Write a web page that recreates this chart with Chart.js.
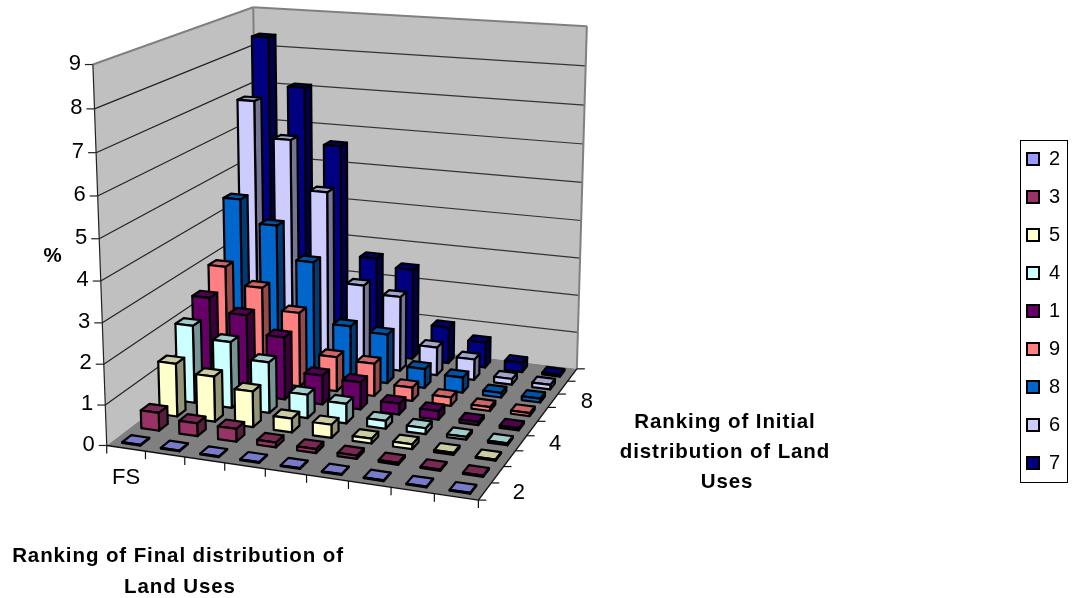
<!DOCTYPE html>
<html>
<head>
<meta charset="utf-8">
<title>Ranking of land uses</title>
<script src="https://cdn.jsdelivr.net/npm/chart.js@4/dist/chart.umd.min.js"></script>
<style>
    html, body { margin: 0; padding: 0; background: #fff; }
    canvas { display: block; }
</style>
</head>
<body>
<canvas id="chart" width="1076" height="598"></canvas>
<script>
// Ranking of final distribution (front axis), only the first one is labelled
const categories = ['FS', '', '', '', '', '', '', '', ''];
const seriesNames = ['2', '3', '5', '4', '1', '9', '8', '6', '7'];

// % per series, front row to back row
const rank2 = [0.02, 0.02, 0.02, 0.02, 0.02, 0.02, 0.02, 0.02, 0.02];
const rank3 = [0.45, 0.32, 0.32, 0.12, 0.1, 0.08, 0.05, 0.03, 0.03];
const rank5 = [1.35, 1.15, 0.9, 0.35, 0.33, 0.12, 0.12, 0.05, 0.03];
const rank4 = [2.0, 1.7, 1.3, 0.6, 0.5, 0.2, 0.15, 0.07, 0.05];
const rank1 = [2.42, 2.08, 1.62, 0.75, 0.7, 0.28, 0.22, 0.08, 0.06];
const rank9 = [2.95, 2.5, 1.95, 0.9, 0.85, 0.35, 0.22, 0.1, 0.08];
const rank8 = [4.47, 3.87, 3.0, 1.4, 1.3, 0.5, 0.4, 0.12, 0.1];
const rank6 = [6.85, 5.9, 4.6, 2.2, 2.0, 0.75, 0.55, 0.15, 0.12];
const rank7 = [8.35, 7.08, 5.6, 2.65, 2.45, 0.98, 0.68, 0.25, 0.05];
const seriesValues = [rank2, rank3, rank5, rank4, rank1, rank9, rank8, rank6, rank7];

const seriesColors = ['#9999FF', '#993366', '#FFFFCC', '#CCFFFF', '#660066', '#FF8080', '#0066CC', '#CCCCFF', '#000080'];

const FONT = '"Liberation Sans", Arial, sans-serif';
const BAR_SIZE = 0.47; // share of a cell the bar takes, both ways

// cube corners [x, height, depth] and where they land on the page,
// the camera matrix is fitted from these
const cameraFit = [
    [0, 0, 0, 107, 447], [1, 0, 0, 478, 499], [0, 0, 1, 258, 329], [1, 0, 1, 577, 370],
    [0, 1, 0, 93, 64], [0, 1, 1, 253, 8], [1, 1, 1, 587, 26]
];

function fitCamera(pts) {
    const rows = [];
    pts.forEach(([x, y, z, sx, sy]) => {
        const a = sx / 1000, b = sy / 1000;
        rows.push([x, y, z, 1, 0, 0, 0, 0, -a * x, -a * y, -a * z, a]);
        rows.push([0, 0, 0, 0, x, y, z, 1, -b * x, -b * y, -b * z, b]);
    });
    // normal equations
    const n = 11;
    const m = [];
    for (let i = 0; i < n; i++) {
        m.push([]);
        for (let j = 0; j <= n; j++) {
            m[i].push(rows.reduce((s, r) => s + r[i] * r[j], 0));
        }
    }
    for (let i = 0; i < n; i++) {
        let p = i;
        for (let k = i + 1; k < n; k++) if (Math.abs(m[k][i]) > Math.abs(m[p][i])) p = k;
        [m[i], m[p]] = [m[p], m[i]];
        for (let k = 0; k < n; k++) {
            if (k === i) continue;
            const f = m[k][i] / m[i][i];
            for (let j = i; j <= n; j++) m[k][j] -= f * m[i][j];
        }
    }
    return m.map((r, i) => r[n] / r[i]);
}

const cam = fitCamera(cameraFit);

function project(x, y, z) {
    const w = cam[8] * x + cam[9] * y + cam[10] * z + 1;
    return [
        1000 * (cam[0] * x + cam[1] * y + cam[2] * z + cam[3]) / w,
        1000 * (cam[4] * x + cam[5] * y + cam[6] * z + cam[7]) / w
    ];
}

function shade(hex, f) {
    const v = parseInt(hex.slice(1), 16);
    const c = [v >> 16, (v >> 8) & 255, v & 255].map(n => Math.round(n * f));
    return `rgb(${c[0]},${c[1]},${c[2]})`;
}

function poly(ctx, pts, fill, stroke, width) {
    ctx.beginPath();
    pts.forEach((p, i) => i ? ctx.lineTo(p[0], p[1]) : ctx.moveTo(p[0], p[1]));
    ctx.closePath();
    if (fill) { ctx.fillStyle = fill; ctx.fill(); }
    if (stroke) { ctx.strokeStyle = stroke; ctx.lineWidth = width; ctx.stroke(); }
}

function line(ctx, a, b, color, width) {
    ctx.beginPath();
    ctx.moveTo(a[0], a[1]);
    ctx.lineTo(b[0], b[1]);
    ctx.strokeStyle = color;
    ctx.lineWidth = width;
    ctx.stroke();
}

function text(ctx, str, x, y, font, align, spacing) {
    ctx.font = font;
    ctx.fillStyle = '#000';
    ctx.textAlign = align || 'center';
    ctx.textBaseline = 'middle';
    ctx.letterSpacing = spacing || '0px';
    ctx.fillText(str, x, y);
}

// scale pixels -> 0..1 inside the cube
const normX = (s, px) => (px - s.left) / s.width;
const normY = (s, px) => (s.bottom - px) / s.height;

const box3d = {
    id: 'box3d',
    afterLayout(chart) {
        // the legend sits in its own spot at the far right
        const lg = chart.legend;
        lg.left = 1009;
        lg.top = 131;
        lg.bottom = 598;
    },
    beforeDatasetsDraw(chart) {
        const ctx = chart.ctx;
        const { x: xs, y: ys, z: zs } = chart.scales;
        const tickFont = '22px ' + FONT;
        ctx.save();
        ctx.lineJoin = 'round';

        // walls and floor
        poly(ctx, [project(0, 0, 0), project(0, 1, 0), project(0, 1, 1), project(0, 0, 1)], '#C0C0C0');
        poly(ctx, [project(0, 0, 1), project(0, 1, 1), project(1, 1, 1), project(1, 0, 1)], '#C0C0C0');
        poly(ctx, [project(0, 0, 0), project(1, 0, 0), project(1, 0, 1), project(0, 0, 1)], '#808080');

        // gridlines + value axis
        ys.ticks.forEach(t => {
            const h = normY(ys, ys.getPixelForValue(t.value));
            if (h > 0 && h < 1) {
                line(ctx, project(0, h, 0), project(0, h, 1), '#222', 1.2);
                line(ctx, project(0, h, 1), project(1, h, 1), '#333', 1.2);
            }
            const p = project(0, h, 0);
            line(ctx, [p[0] - 8, p[1]], p, '#222', 1.2);
            text(ctx, t.label, p[0] - 12, p[1] - 1, tickFont, 'right');
        });
        line(ctx, project(0, 1, 0), project(0, 1, 1), '#808080', 2);
        line(ctx, project(0, 1, 1), project(1, 1, 1), '#808080', 2);
        line(ctx, project(0, 1, 1), project(0, 0, 1), '#808080', 2);
        line(ctx, project(1, 1, 1), project(1, 0, 1), '#808080', 2);
        line(ctx, project(0, 0, 0), project(0, 1, 0), '#222', 1.2);

        // floor axes and their ticks
        line(ctx, project(0, 0, 0), project(1, 0, 0), '#111', 1.4);
        line(ctx, project(1, 0, 0), project(1, 0, 1), '#111', 1.4);
        const bandX = xs.width / categories.length;
        const bandZ = zs.width / seriesNames.length;
        for (let i = 0; i <= categories.length; i++) {
            const p = project(normX(xs, xs.left + i * bandX), 0, 0);
            line(ctx, p, [p[0], p[1] + 8], '#111', 1.2);
        }
        for (let i = 0; i <= seriesNames.length; i++) {
            const p = project(1, 0, normX(zs, zs.left + i * bandZ));
            line(ctx, p, [p[0] + 8, p[1]], '#111', 1.2);
        }
        categories.forEach((c, i) => {
            if (!c) return;
            const p = project(normX(xs, xs.getPixelForValue(i)), 0, 0);
            text(ctx, c, p[0], p[1] + 30, tickFont);
        });
        seriesNames.forEach((s, j) => {
            if (j % 3) return;
            const p = project(1, 0, normX(zs, zs.getPixelForValue(j)));
            text(ctx, s, p[0] + 34, p[1] + 1, tickFont);
        });

        // bars: back row first, left to right in each row
        for (let j = chart.data.datasets.length - 1; j >= 0; j--) {
            const ds = chart.data.datasets[j];
            const zc = zs.getPixelForValue(j);
            const z0 = normX(zs, zc - bandZ * BAR_SIZE / 2);
            const z1 = normX(zs, zc + bandZ * BAR_SIZE / 2);
            ds.data.forEach((v, i) => {
                const xc = xs.getPixelForValue(i);
                const x0 = normX(xs, xc - bandX * BAR_SIZE / 2);
                const x1 = normX(xs, xc + bandX * BAR_SIZE / 2);
                const h = normY(ys, ys.getPixelForValue(v));
                const col = ds.backgroundColor;
                poly(ctx, [project(x1, 0, z0), project(x1, h, z0), project(x1, h, z1), project(x1, 0, z1)], shade(col, 0.58), '#000', 2.2);
                poly(ctx, [project(x0, h, z0), project(x1, h, z0), project(x1, h, z1), project(x0, h, z1)], shade(col, 0.8), '#000', 2.2);
                poly(ctx, [project(x0, 0, z0), project(x1, 0, z0), project(x1, h, z0), project(x0, h, z0)], col, '#000', 2.2);
            });
        }

        // axis titles
        const bold = 'bold 20.5px ' + FONT;
        const gap = '0.9px';
        text(ctx, 'Ranking of Final distribution of', 178, 556, bold, 'center', gap);
        text(ctx, 'Land Uses', 180, 587, bold, 'center', gap);
        text(ctx, 'Ranking of Initial', 725, 422, bold, 'center', gap);
        text(ctx, 'distribution of Land', 725, 452, bold, 'center', gap);
        text(ctx, 'Uses', 727, 482, bold, 'center', gap);
        text(ctx, '%', 52.5, 256, bold);
        ctx.restore();
        return false;
    },
    afterDraw(chart) {
        const ctx = chart.ctx;
        ctx.save();
        ctx.strokeStyle = '#000';
        ctx.lineWidth = 1;
        ctx.strokeRect(1020.5, 140.5, 47, 342);
        ctx.restore();
    }
};

new Chart(document.getElementById('chart'), {
    type: 'bar',
    data: {
        labels: categories,
        datasets: seriesNames.map((name, i) => ({
            label: name,
            data: seriesValues[i],
            backgroundColor: seriesColors[i],
            borderColor: '#000',
            borderWidth: 2
        }))
    },
    options: {
        responsive: false,
        animation: false,
        events: [],
        scales: {
            x: { display: false },
            y: { display: false, min: 0, max: 9, ticks: { stepSize: 1 } },
            z: { display: false, axis: 'x', type: 'category', labels: seriesNames, offset: true }
        },
        plugins: {
            tooltip: { enabled: false },
            legend: {
                position: 'right',
                align: 'start',
                labels: {
                    boxWidth: 12,
                    boxHeight: 12,
                    padding: 18,
                    color: '#000',
                    font: { family: FONT, size: 20 }
                }
            }
        }
    },
    plugins: [box3d]
});
</script>
</body>
</html>
